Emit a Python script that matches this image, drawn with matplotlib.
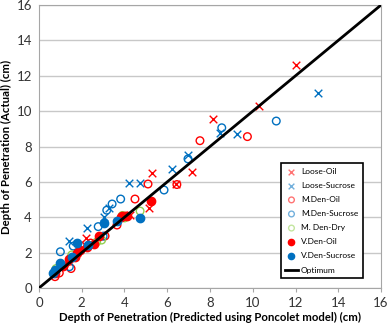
import matplotlib
matplotlib.use("Agg")
import matplotlib.pyplot as plt

plt.rcParams['font.family'] = ['Lato', 'DejaVu Sans']

# Loose-Oil (red x)
loose_oil_x = [12.0, 10.3, 8.14, 7.16, 5.29, 5.15, 6.41, 4.26, 2.18, 2.15]
loose_oil_y = [12.6, 10.3, 9.55, 6.56, 6.5, 4.52, 5.88, 4.13, 2.85, 2.45]

# Loose-Sucrose (blue x)
loose_suc_x = [13.05, 9.26, 8.47, 6.97, 6.22, 4.21, 4.73, 3.28, 3.04, 2.25, 1.42]
loose_suc_y = [11.0, 8.7, 8.76, 7.5, 6.73, 5.94, 5.94, 4.5, 4.0, 3.41, 2.68]

# M.Den-Oil (red open circle)
mden_oil_x = [7.53, 9.75, 6.45, 5.1, 4.49, 3.65, 4.02, 3.09, 2.42, 1.5, 0.95, 0.75]
mden_oil_y = [8.33, 8.56, 5.85, 5.88, 5.03, 3.56, 4.07, 2.94, 2.54, 1.1, 0.85, 0.64]

# M.Den-Sucrose (blue open circle)
mden_suc_x = [11.1, 8.55, 6.97, 5.85, 3.82, 3.42, 3.17, 2.77, 3.0, 1.6, 1.0, 1.42]
mden_suc_y = [9.44, 9.06, 7.3, 5.54, 5.03, 4.75, 4.4, 3.47, 2.93, 2.37, 2.05, 1.2]

# M. Den-Dry (green open circle)
mden_dry_x = [4.73, 4.0, 3.9, 2.93, 2.7, 1.53, 0.8]
mden_dry_y = [4.35, 3.96, 4.1, 2.71, 2.6, 1.87, 1.1]

# V.Den-Oil (red filled)
vden_oil_x = [5.24, 4.12, 3.9, 3.82, 2.81, 2.57, 2.23, 1.92, 1.79, 1.68, 1.42, 1.14, 0.75]
vden_oil_y = [4.92, 4.07, 4.07, 4.0, 2.94, 2.47, 2.3, 2.15, 1.96, 1.77, 1.62, 1.24, 0.83]

# V.Den-Sucrose (blue filled)
vden_suc_x = [4.73, 3.66, 3.06, 2.31, 1.79, 1.53, 0.98, 0.75, 0.67]
vden_suc_y = [3.96, 3.79, 3.65, 2.43, 2.56, 1.77, 1.4, 1.02, 0.83]

optimum = [0, 16]

RED = '#FF0000'
BLUE = '#0070C0'
GREEN = '#92D050'

fig = plt.figure(figsize=(3.88, 3.23), dpi=100)
ax = fig.add_axes([0.1005, 0.1084, 0.8815, 0.876])

ax.scatter(loose_oil_x, loose_oil_y, marker='x', s=30, color=RED, linewidths=1.0, label='Loose-Oil', zorder=3)
ax.scatter(loose_suc_x, loose_suc_y, marker='x', s=30, color=BLUE, linewidths=1.0, label='Loose-Sucrose', zorder=3)
ax.scatter(mden_oil_x, mden_oil_y, marker='o', s=30, facecolors='none', edgecolors=RED, linewidths=1.0, label='M.Den-Oil', zorder=3)
ax.scatter(mden_suc_x, mden_suc_y, marker='o', s=30, facecolors='none', edgecolors=BLUE, linewidths=1.0, label='M.Den-Sucrose', zorder=3)
ax.scatter(mden_dry_x, mden_dry_y, marker='o', s=30, facecolors='none', edgecolors=GREEN, linewidths=1.0, label='M. Den-Dry', zorder=3)
ax.scatter(vden_oil_x, vden_oil_y, marker='o', s=36, color=RED, label='V.Den-Oil', zorder=4)
ax.scatter(vden_suc_x, vden_suc_y, marker='o', s=36, color=BLUE, label='V.Den-Sucrose', zorder=4)
ax.plot(optimum, optimum, color='black', linewidth=2.0, label='Optimum', zorder=5)

ax.set_xlim(0, 16)
ax.set_ylim(0, 16)
ax.set_xticks(range(0, 17, 2))
ax.set_yticks(range(0, 17, 2))
ax.yaxis.grid(True, color='#C8C8C8', linewidth=1.0)
ax.set_axisbelow(True)
for s in ax.spines.values():
    s.set_color('#A6A6A6')
ax.tick_params(axis='both', labelsize=9.5, colors='#333333', length=3, color='#A6A6A6')
ax.tick_params(axis='y', length=0, pad=5)

ax.set_xlabel('Depth of Penetration (Predicted using Poncolet model) (cm)', fontsize=8.2, fontweight='bold', labelpad=2)
ax.set_ylabel('Depth of Penetration (Actual) (cm)', fontsize=8.2, fontweight='bold', labelpad=3)

leg = ax.legend(loc='lower right', bbox_to_anchor=(0.947, 0.035), fontsize=6.0, frameon=True, fancybox=False,
                edgecolor='black', framealpha=1, borderpad=0.55, labelspacing=0.85, handlelength=1.5,
                handletextpad=0.4, markerscale=0.75, borderaxespad=0)
leg.get_frame().set_linewidth(1.2)
for h in leg.legend_handles[:5]:
    h.set_alpha(0.55)

fig.savefig('out.png', dpi=100)
